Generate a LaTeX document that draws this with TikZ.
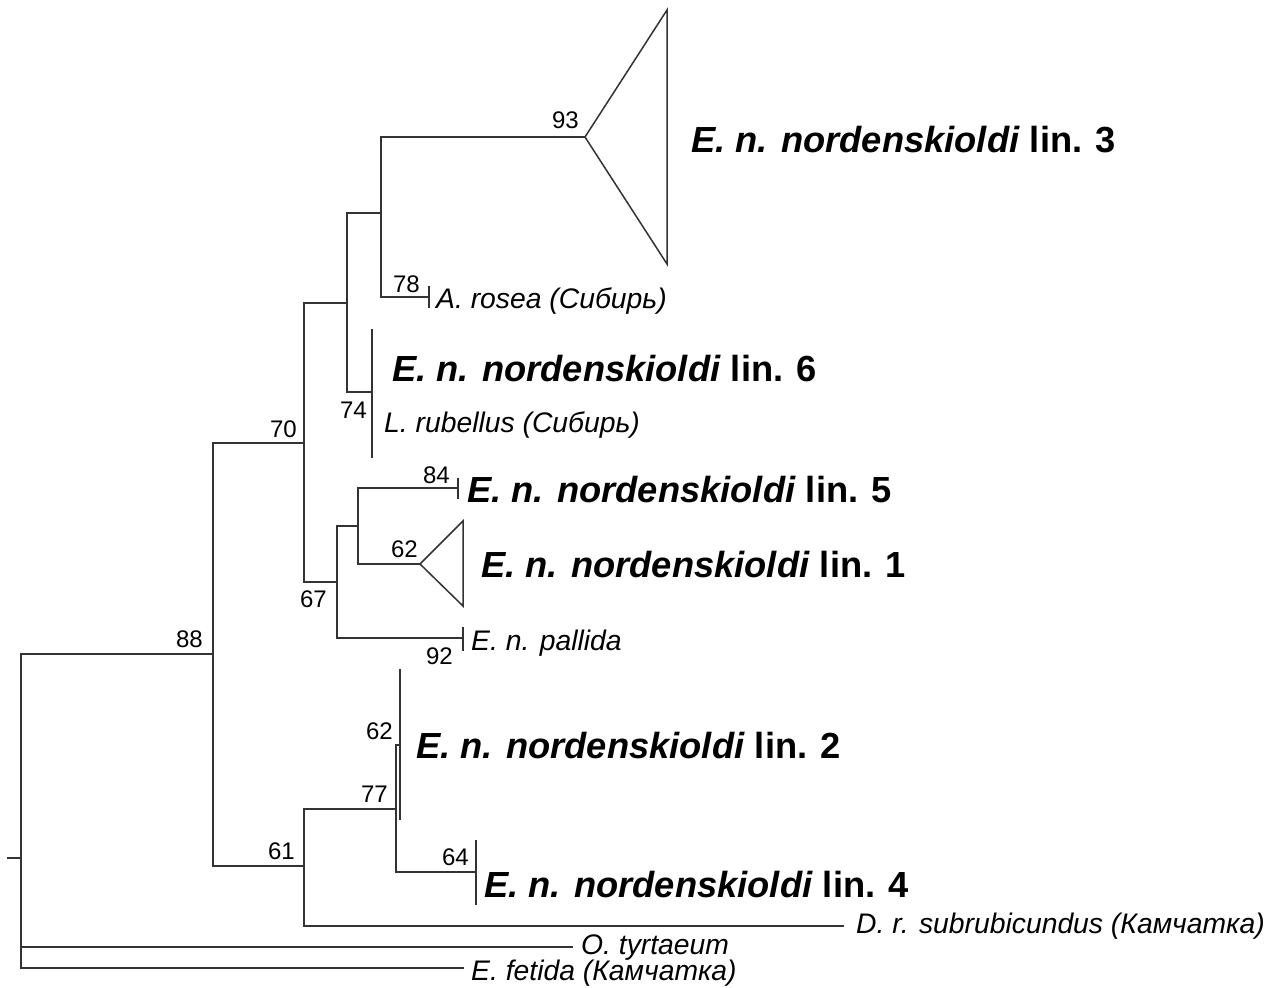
\documentclass[tikz,border=0pt]{standalone}
\usepackage{fontspec}
\setmainfont{Liberation Sans}
\begin{document}
\begin{tikzpicture}[x=1pt,y=-1pt,
  branch/.style={draw=black!80,line width=1.5pt,line cap=rect},
  support/.style={font=\fontsize{24}{26}\selectfont,inner sep=0pt,anchor=base east},
  taxon/.style={font=\fontsize{28.3}{30}\selectfont\itshape,inner sep=0pt,anchor=base west},
  lineage/.style={font=\fontsize{36.3}{40}\selectfont\bfseries,inner sep=0pt,anchor=base west}]
\useasboundingbox[fill=white] (0,0) rectangle (1288,988);

% tree nodes
\coordinate (stub) at (8,858);
\coordinate (root) at (21,858);
\coordinate (n88) at (213,654);
\coordinate (n70) at (304,443);
\coordinate (n61) at (304,866);
\coordinate (nA) at (347,303);
\coordinate (n67) at (337,582);
\coordinate (nB) at (381,213);
\coordinate (n74) at (372,392);
\coordinate (n93) at (585,137);
\coordinate (t78) at (429,297);
\coordinate (nC) at (358,526);
\coordinate (tpal) at (463,638);
\coordinate (t84) at (458,488);
\coordinate (n62a) at (420,564);
\coordinate (n77) at (396,809);
\coordinate (n62b) at (400,745);
\coordinate (n64) at (476,872);
\coordinate (tdr) at (843,926);
\coordinate (tot) at (572,947);
\coordinate (tef) at (463,968);

% branches
\draw[branch] (stub) -- (root);
\draw[branch] (root) |- (n88);
\draw[branch] (root) |- (tot);
\draw[branch] (root) |- (tef);
\draw[branch] (n88) |- (n70);
\draw[branch] (n88) |- (n61);
\draw[branch] (n70) |- (nA);
\draw[branch] (n70) |- (n67);
\draw[branch] (nA) |- (nB);
\draw[branch] (nA) |- (n74);
\draw[branch] (nB) |- (n93);
\draw[branch] (nB) |- (t78);
\draw[branch] (n67) |- (nC);
\draw[branch] (n67) |- (tpal);
\draw[branch] (nC) |- (t84);
\draw[branch] (nC) |- (n62a);
\draw[branch] (n61) |- (n77);
\draw[branch] (n61) |- (tdr);
\draw[branch] (n77) |- (n62b);
\draw[branch] (n77) |- (n64);

% collapsed clades and terminal bars
\draw[branch,line join=miter] (n93) -- (667,10) -- (667,264) -- cycle;
\draw[branch,line join=miter] (n62a) -- (463,521) -- (463,606) -- cycle;
\draw[branch] (n74) ++(0,-62) -- ++(0,127);
\draw[branch] (n62b) ++(0,-75) -- ++(0,149);
\draw[branch] (n64) ++(0,-31) -- ++(0,63);
\draw[branch] (t78) ++(0,-10) -- ++(0,20);
\draw[branch] (t84) ++(0,-9) -- ++(0,19);
\draw[branch] (tpal) ++(0,-10) -- ++(0,22);

% support values
\node[support] (b93) at (579,128) {93};
\node[support] (b78) at (420,292) {78};
\node[support] (b74) at (367,418) {74};
\node[support] (b70) at (297,437) {70};
\node[support] (b88) at (203,647) {88};
\node[support] (b84) at (450,483) {84};
\node[support] (b62a) at (418,557) {62};
\node[support] (b67) at (327,607) {67};
\node[support] (b92) at (453,664) {92};
\node[support] (b62b) at (393,739) {62};
\node[support] (b77) at (388,802) {77};
\node[support] (b61) at (295,859) {61};
\node[support] (b64) at (469,865) {64};

% taxa
\node[lineage] (lin3) at (691,152) {\textit{E. n. nordenskioldi} lin. 3};
\node[taxon] (aros) at (436,308) {A. rosea (Сибирь)};
\node[lineage] (lin6) at (392,381) {\textit{E. n. nordenskioldi} lin. 6};
\node[taxon] (lrub) at (384,432) {L. rubellus (Сибирь)};
\node[lineage] (lin5) at (467,502) {\textit{E. n. nordenskioldi} lin. 5};
\node[lineage] (lin1) at (481,577) {\textit{E. n. nordenskioldi} lin. 1};
\node[taxon] (pall) at (471,650) {E. n. pallida};
\node[lineage] (lin2) at (416,758) {\textit{E. n. nordenskioldi} lin. 2};
\node[lineage] (lin4) at (484,897) {\textit{E. n. nordenskioldi} lin. 4};
\node[taxon] (dsub) at (856,933) {D. r. subrubicundus (Камчатка)};
\node[taxon] (otyr) at (581,954) {O. tyrtaeum};
\node[taxon] (efet) at (471,980) {E. fetida (Камчатка)};
\end{tikzpicture}
\end{document}
